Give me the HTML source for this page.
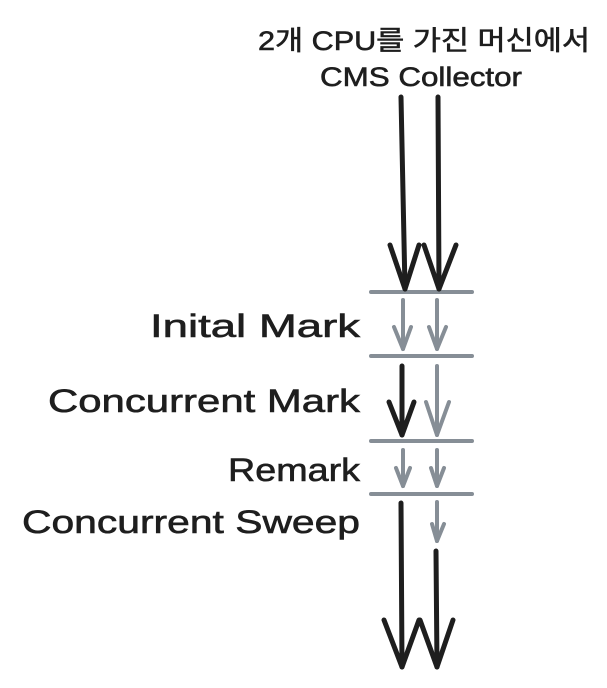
<!DOCTYPE html>
<html><head><meta charset="utf-8"><style>
html,body{margin:0;padding:0;background:#fff;width:607px;height:688px;overflow:hidden}
text{font-family:"Liberation Sans","Noto Sans CJK KR",sans-serif;fill:#1e1e1e;stroke:#1e1e1e;stroke-width:0.6}
</style></head><body>
<svg width="607" height="688" viewBox="0 0 607 688">
<g stroke-linecap="round" stroke-linejoin="round" fill="none">
<g stroke="#868e96" stroke-width="4">
<line x1="371" y1="292" x2="472" y2="292"/>
<line x1="371" y1="356" x2="472" y2="356"/>
<line x1="371" y1="441" x2="472" y2="441"/>
<line x1="371" y1="494" x2="472" y2="494"/>
</g>
<g stroke="#1e1e1e" stroke-width="5">
<line x1="401" y1="97" x2="405" y2="289"/>
<polyline points="390,245 405,289 419,245"/>
<line x1="438" y1="97" x2="439" y2="289"/>
<polyline points="424,245 439,289 456,245"/>
</g>
<g stroke="#868e96" stroke-width="4">
<line x1="403" y1="300" x2="403" y2="349"/><polyline points="394,327 403,349 411,327"/>
<line x1="437" y1="300" x2="437" y2="349"/><polyline points="429,327 437,349 446,327"/>
</g>
<g stroke="#1e1e1e" stroke-width="5">
<line x1="402" y1="366" x2="402" y2="435"/><polyline points="389,402 402,435 414,402"/>
</g>
<g stroke="#868e96" stroke-width="4">
<line x1="437" y1="366" x2="437" y2="435"/><polyline points="426,402 437,435 449,402"/>
</g>
<g stroke="#868e96" stroke-width="4">
<line x1="403" y1="450" x2="403" y2="486"/><polyline points="396,468 403,486 410,468"/>
<line x1="437" y1="450" x2="437" y2="486"/><polyline points="431,468 437,486 444,468"/>
</g>
<g stroke="#868e96" stroke-width="4">
<line x1="437" y1="502" x2="437" y2="541"/><polyline points="432,524 437,541 444,524"/>
</g>
<g stroke="#1e1e1e" stroke-width="5">
<line x1="401" y1="503" x2="402" y2="667"/><polyline points="384,620 402,667 419,620"/>
<line x1="436" y1="551" x2="437" y2="667"/><polyline points="420,620 437,667 453,620"/>
</g>
</g>
<text x="258" y="50" font-size="27" textLength="332" lengthAdjust="spacingAndGlyphs">2개 CPU를 가진 머신에서</text>
<text x="320" y="86" font-size="27" textLength="202" lengthAdjust="spacingAndGlyphs">CMS Collector</text>
<text x="150" y="337" font-size="32" textLength="210" lengthAdjust="spacingAndGlyphs">Inital Mark</text>
<text x="48" y="412" font-size="32" textLength="312" lengthAdjust="spacingAndGlyphs">Concurrent Mark</text>
<text x="228" y="481" font-size="32" textLength="132" lengthAdjust="spacingAndGlyphs">Remark</text>
<text x="22" y="533" font-size="32" textLength="338" lengthAdjust="spacingAndGlyphs">Concurrent Sweep</text>
</svg>
</body></html>
